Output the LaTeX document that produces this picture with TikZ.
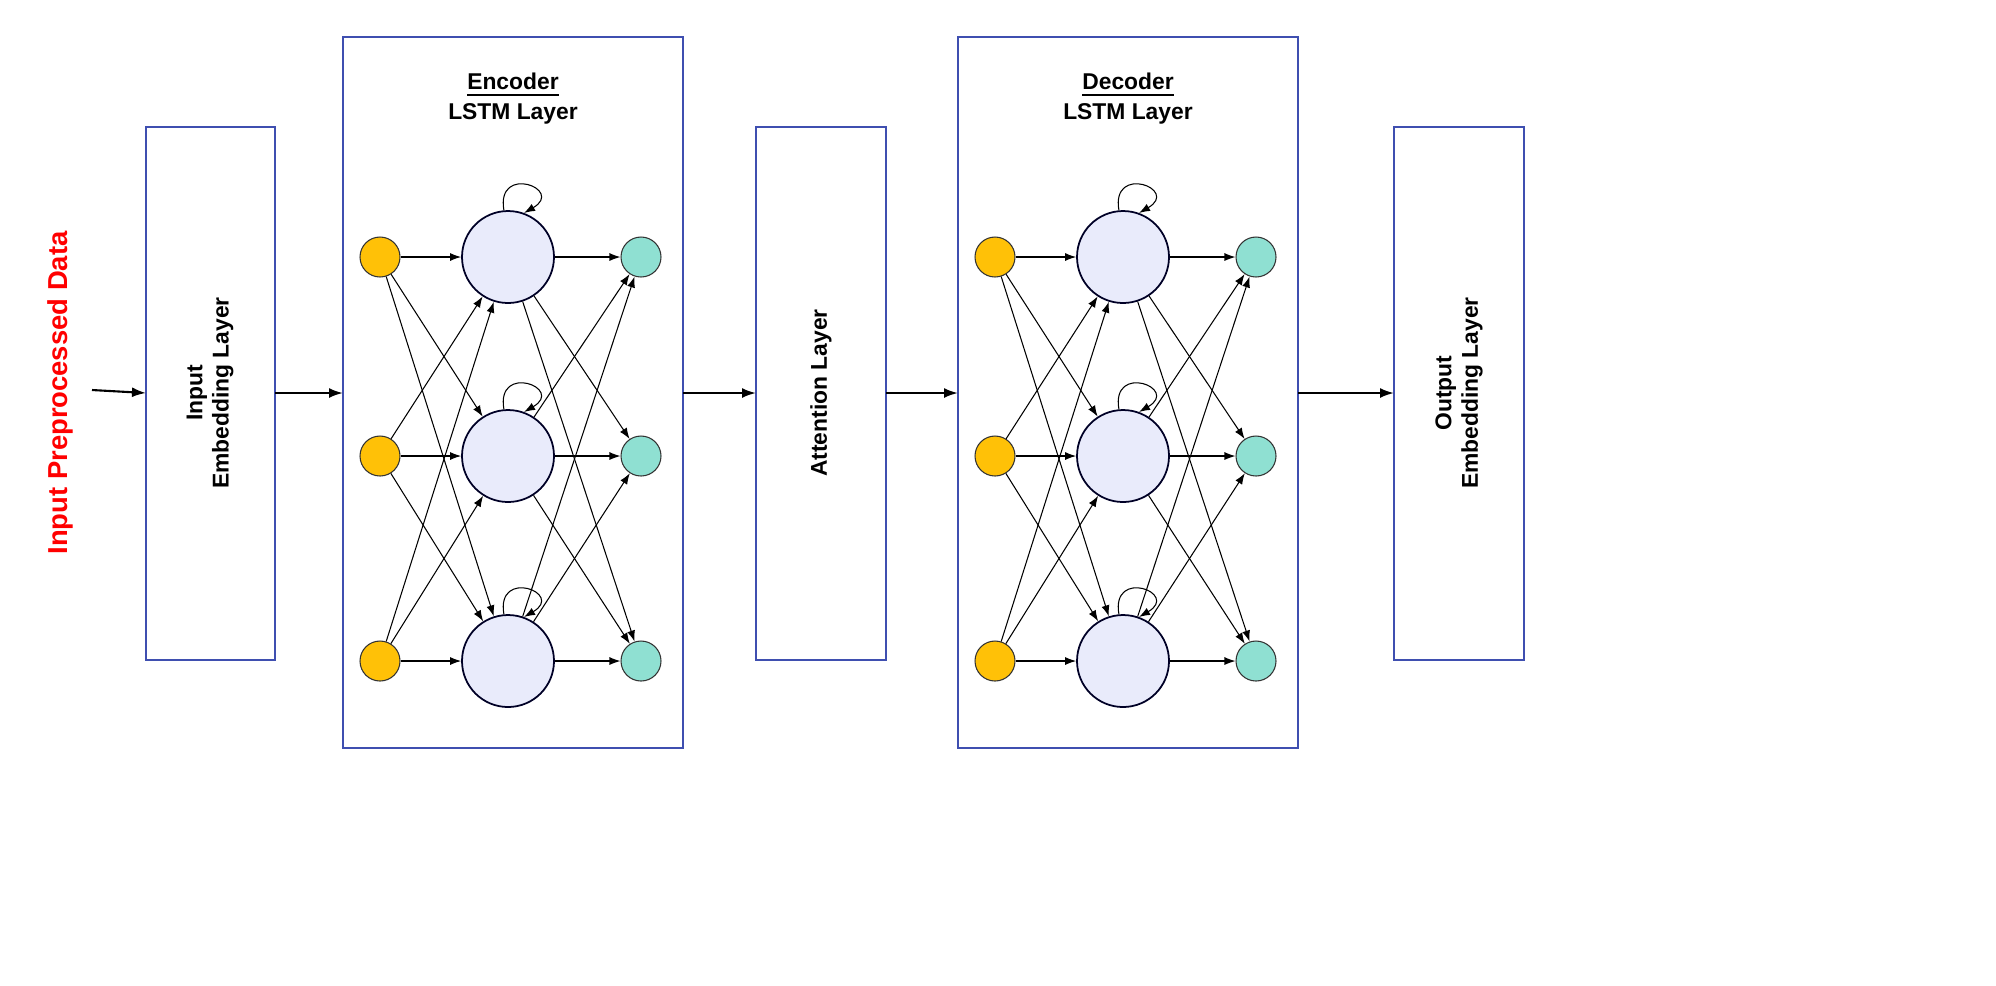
\documentclass[tikz,border=0pt]{standalone}
\usepackage{fontspec}
\setmainfont{Liberation Sans}
\usetikzlibrary{arrows.meta}
\definecolor{boxblue}{HTML}{3F4FB0}
\definecolor{inorange}{HTML}{FFC107}
\definecolor{outteal}{HTML}{8FE0D2}
\definecolor{celllav}{HTML}{E9EBFB}
\tikzset{
	layerbox/.style={draw=boxblue, line width=0.6pt},
	layertext/.style={font=\bfseries\fontsize{6.5}{7.5}\selectfont, align=center, rotate=90},
	innode/.style={circle, draw=black!80, line width=0.3pt, fill=inorange, minimum size=4mm, inner sep=0pt},
	outnode/.style={circle, draw=black!80, line width=0.3pt, fill=outteal, minimum size=4mm, inner sep=0pt},
	cellnode/.style={circle, draw=black!85!blue, line width=0.5pt, fill=celllav, minimum size=9.2mm, inner sep=0pt},
	conn/.style={-{Latex[length=1.1mm,width=0.8mm]}, line width=0.3pt},
	flow/.style={-{Latex[length=1.4mm,width=1mm]}, line width=0.6pt}
}
\begin{document}
\begin{tikzpicture}[x=0.1mm,y=-0.1mm]
	\useasboundingbox (0,0) rectangle (1996,985);

	% plain layers
	\draw[layerbox] (146,127) rectangle (275,660);
	\node (inemb) at (210,393) [layertext]{Input\\Embedding Layer};
	\draw[layerbox] (756,127) rectangle (886,660);
	\node (att) at (821,393) [layertext]{Attention Layer};
	\draw[layerbox] (1394,127) rectangle (1524,660);
	\node (outemb) at (1459,393) [layertext]{Output\\Embedding Layer};

	% input label
	\node (data) at (60,393) [rotate=90, text=red, font=\bfseries\fontsize{7.8}{9}\selectfont]{Input Preprocessed Data};

	% LSTM blocks
	\foreach \bx/\nm/\ttl in {343/enc/Encoder, 958/dec/Decoder} {
		\draw[layerbox] (\bx,37) rectangle ++(340,711);
		\node (\nm title) at (\bx+170,99) [align=center, font=\bfseries\fontsize{6.5}{8.5}\selectfont]{\underline{\ttl}\\LSTM Layer};
		\foreach \y [count=\i] in {257,456,661} {
			\node (\nm in\i) at (\bx+37,\y) [innode]{};
			\node (\nm c\i) at (\bx+165,\y) [cellnode]{};
			\node (\nm out\i) at (\bx+298,\y) [outnode]{};
			\draw[conn] (\nm c\i.95) to[out=100,in=30,looseness=6] (\nm c\i.70);
		}
		\foreach \i in {1,2,3} {
			\foreach \j in {1,2,3} {
				\draw[conn] (\nm in\i) -- (\nm c\j);
				\draw[conn] (\nm c\i) -- (\nm out\j);
			}
		}
	}

	% flow between layers
	\coordinate (start) at (92,390);
	\draw[flow] (start) -- (146,393);
	\draw[flow] (275,393) -- (343,393);
	\draw[flow] (683,393) -- (756,393);
	\draw[flow] (886,393) -- (958,393);
	\draw[flow] (1298,393) -- (1394,393);
\end{tikzpicture}
\end{document}
